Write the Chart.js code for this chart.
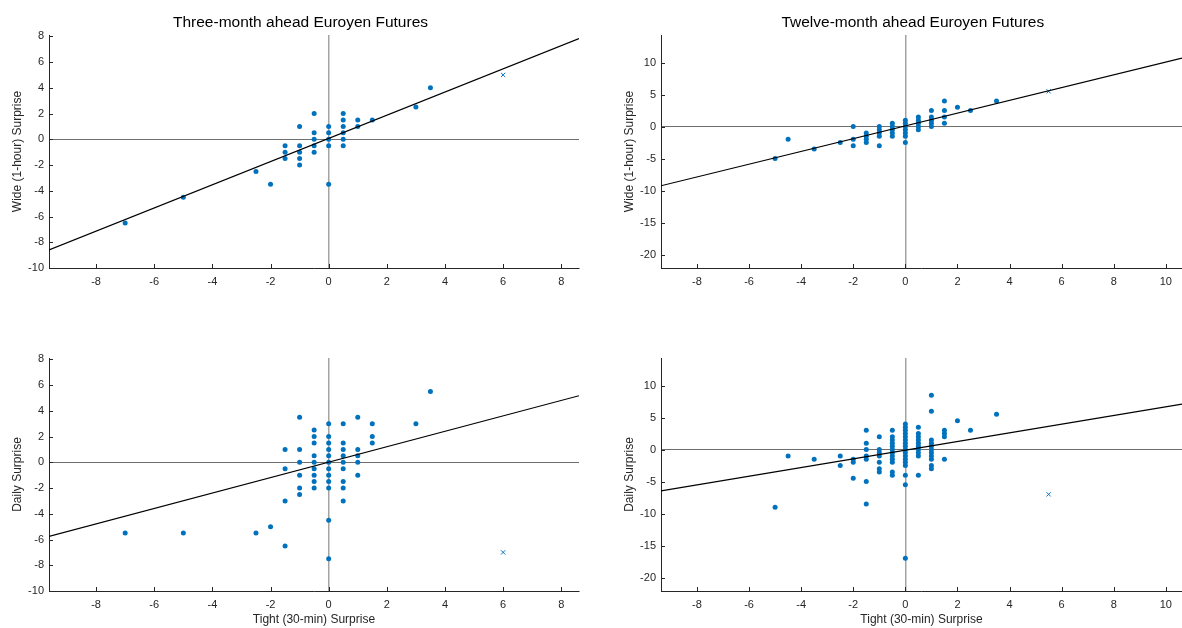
<!DOCTYPE html>
<html>
<head>
<meta charset="utf-8">
<title>Euroyen Futures surprises</title>
<script src="https://cdn.jsdelivr.net/npm/chart.js@4.4.1/dist/chart.umd.min.js"></script>
<style>
  html, body { margin: 0; padding: 0; background: #fff; }
  #wrap { position: relative; width: 1182px; height: 628px; overflow: hidden; background: #fff; }
  canvas { position: absolute; }
</style>
</head>
<body>
<div id="wrap">
  <canvas id="p1" width="591" height="300" style="left:0;top:0;width:591px;height:300px"></canvas>
  <canvas id="p2" width="591" height="300" style="left:591px;top:0;width:591px;height:300px"></canvas>
  <canvas id="p3" width="591" height="328" style="left:0;top:300px;width:591px;height:328px"></canvas>
  <canvas id="p4" width="591" height="328" style="left:591px;top:300px;width:591px;height:328px"></canvas>
</div>
<script>
// ---- data: three-month contract, wide (1-hour) vs tight (30-min)
const tight3mA = [-7, -5, -2.5, -2, -1.5, -1.5, -1.5, -1, -1, -1, -1, -1, -0.5, -0.5, -0.5, -0.5, -0.5,
  0, 0, 0, 0, 0, 0.5, 0.5, 0.5, 0.5, 0.5, 0.5, 1, 1, 1.5, 3, 3.5];
const wide3m = [-6.5, -4.5, -2.5, -3.5, -0.5, -1, -1.5, 1, -0.5, -1, -1.5, -2, 2, 0.5, 0, -0.5, -1,
  1, 0.5, 0, -0.5, -3.5, 2, 1.5, 1, 0.5, 0, -0.5, 1.5, 1, 1.5, 2.5, 4];

// ---- data: three-month contract, daily vs tight (30-min)
const tight3mB = [-7, -5, -2.5, -2, -1.5, -1.5, -1.5, -1.5,
  -1, -1, -1, -1, -1, -1,
  -0.5, -0.5, -0.5, -0.5, -0.5, -0.5, -0.5, -0.5, -0.5,
  0, 0, 0, 0, 0, 0, 0, 0, 0, 0, 0, 0,
  0.5, 0.5, 0.5, 0.5, 0.5, 0.5, 0.5, 0.5, 0.5,
  1, 1, 1, 1, 1,
  1.5, 1.5, 1.5, 3, 3.5];
const daily3m = [-5.5, -5.5, -5.5, -5, 1, -0.5, -3, -6.5,
  3.5, 1, 0, -1, -2, -2.5,
  2.5, 2, 1.5, 0.5, 0, -0.5, -1, -1.5, -2,
  3, 2, 1.5, 1, 0.5, 0, -0.5, -1, -1.5, -2, -4.5, -7.5,
  3, 1.5, 1, 0.5, 0, -0.5, -1.5, -2, -3,
  3.5, 1, 0.5, 0, -1,
  3, 2, 1.5, 3, 5.5];

// ---- data: twelve-month contract, wide (1-hour) vs tight (30-min)
const tight12mA = [-5, -4.5, -3.5, -2.5, -2, -2, -2,
  -1.5, -1.5, -1.5, -1.5,
  -1, -1, -1, -1, -1,
  -0.5, -0.5, -0.5, -0.5, -0.5,
  0, 0, 0, 0, 0, 0, 0,
  0.5, 0.5, 0.5, 0.5, 0.5,
  1, 1, 1, 1, 1,
  1.5, 1.5, 1.5, 1.5, 2, 2.5, 3.5];
const wide12m = [-5, -2, -3.5, -2.5, 0, -2, -3,
  -1, -1.5, -2, -2.5,
  0, -0.5, -1, -1.5, -3,
  0.5, 0, -0.5, -1, -1.5,
  1, 0.5, 0, -0.5, -1, -1.5, -2.5,
  1.5, 1, 0.5, 0, -0.5,
  2.5, 1.5, 1, 0.5, 0,
  4, 2.5, 1.5, 0.5, 3, 2.5, 4];

// ---- data: twelve-month contract, daily vs tight (30-min)
const tight12mB = [-5, -4.5, -3.5, -2.5, -2.5, -2, -2, -2,
  -1.5, -1.5, -1.5, -1.5, -1.5, -1.5, -1.5,
  -1, -1, -1, -1, -1, -1, -1,
  -0.5, -0.5, -0.5, -0.5, -0.5, -0.5, -0.5, -0.5, -0.5, -0.5, -0.5, -0.5,
  0, 0, 0, 0, 0, 0, 0, 0, 0, 0, 0, 0, 0, 0, 0, 0, 0,
  0.5, 0.5, 0.5, 0.5, 0.5, 0.5, 0.5, 0.5, 0.5, 0.5,
  1, 1, 1, 1, 1, 1, 1, 1, 1, 1, 1,
  1.5, 1.5, 1.5, 1.5, 2, 2.5, 3.5];
const daily12m = [-9, -1, -1.5, -1, -2.5, -1.5, -2, -4.5,
  3, 1, 0, -1, -1.5, -5, -8.5,
  2, 0, -0.5, -1, -2, -3, -3.5,
  3, 2, 1.5, 1, 0.5, 0, -0.5, -1, -1.5, -2, -3.5, -4,
  4, 3.5, 3, 2.5, 2, 1.5, 1, 0.5, 0, -0.5, -1, -1.5, -2, -2.5, -4, -5.5, -17,
  3.5, 2.5, 2, 1.5, 1, 0.5, 0, -0.5, -1, -4,
  8.5, 6, 1.5, 1, 0.5, 0, -0.5, -1, -1.5, -2.5, -3,
  3, 2.5, 2, -1.5, 4.5, 3, 5.5];

// ---- excluded observation (x marker), one per panel
const outTight3m = [6];
const outWide3m = [5];
const outDaily3m = [-7];
const outTight12m = [5.5];
const outWide12m = [5.5];
const outDaily12m = [-7];

// ---- fitted lines, end points read at the axis edges
const fitX3m = [-9.62, 8.61];
const fitWide3m = [-8.59, 7.82];
const fitDaily3m = [-5.76, 5.17];
const fitX12m = [-9.38, 10.62];
const fitWide12m = [-9.25, 10.7];
const fitDaily12m = [-6.46, 7.08];

// ---- axis limits and tick labels
const xLim3m = [-9.62, 8.61];
const yLim3m = [-10, 8.1];
const xLim12m = [-9.38, 10.62];
const yLim12m = [-22.1, 14.3];
const xTicks3m = [-8, -6, -4, -2, 0, 2, 4, 6, 8];
const yTicks3m = [-10, -8, -6, -4, -2, 0, 2, 4, 6, 8];
const xTicks12m = [-8, -6, -4, -2, 0, 2, 4, 6, 8, 10];
const yTicks12m = [-20, -15, -10, -5, 0, 5, 10];

const BLUE = "#0072BD";
const INK = "#262626";
const FONT = '"Liberation Sans", Arial, Helvetica, sans-serif';

Chart.defaults.font.family = FONT;
Chart.defaults.color = INK;

function zip(xs, ys) {
  return xs.map((x, i) => ({ x: x, y: ys[i] }));
}

// ticks pointing into the plot, like matlab
const innerTicks = {
  id: "innerTicks",
  afterDraw(chart) {
    const { ctx, chartArea: a, scales } = chart;
    ctx.save();
    ctx.strokeStyle = INK;
    ctx.lineWidth = 1;
    ctx.beginPath();
    scales.x.ticks.forEach((t) => {
      const px = Math.round(scales.x.getPixelForValue(t.value)) + 0.5;
      ctx.moveTo(px, a.bottom);
      ctx.lineTo(px, a.bottom - 4);
    });
    scales.y.ticks.forEach((t) => {
      const py = Math.round(scales.y.getPixelForValue(t.value)) + 0.5;
      ctx.moveTo(a.left, py);
      ctx.lineTo(a.left + 4, py);
    });
    ctx.stroke();
    ctx.restore();
  },
};

// panel title at a fixed spot
const panelTitle = {
  id: "panelTitle",
  afterDraw(chart, args, opts) {
    if (!opts || !opts.text) return;
    const ctx = chart.ctx;
    ctx.save();
    ctx.font = "15.5px " + FONT;
    ctx.fillStyle = "#000";
    ctx.textAlign = "center";
    ctx.textBaseline = "alphabetic";
    ctx.fillText(opts.text, opts.x, opts.y);
    ctx.restore();
  },
};

function makePanel(id, p) {
  const ctx = document.getElementById(id);
  const zeroX = (c) => (c.tick && c.tick.value === 0 ? "#a3a3a3" : "rgba(0,0,0,0)");
  const zeroY = (c) => (c.tick && c.tick.value === 0 ? "#6e6e6e" : "rgba(0,0,0,0)");
  new Chart(ctx, {
    type: "scatter",
    data: {
      datasets: [
        {
          data: zip(p.xs, p.ys),
          backgroundColor: BLUE,
          borderWidth: 0,
          pointRadius: 2.5,
          order: 2,
        },
        {
          data: zip(p.ox, p.oy),
          pointStyle: "crossRot",
          pointRadius: 3,
          borderColor: BLUE,
          backgroundColor: BLUE,
          borderWidth: 1,
          order: 1,
        },
        {
          data: zip(p.fx, p.fy),
          showLine: true,
          borderColor: "#000",
          borderWidth: 1.2,
          pointRadius: 0,
          order: 0,
        },
      ],
    },
    options: {
      responsive: false,
      animation: false,
      devicePixelRatio: 1,
      events: [],
      layout: { padding: p.pad, autoPadding: false },
      plugins: {
        legend: { display: false },
        tooltip: { enabled: false },
        panelTitle: p.title || false,
      },
      scales: {
        x: {
          type: "linear",
          min: p.xlim[0],
          max: p.xlim[1],
          grid: { drawTicks: false, color: zeroX, lineWidth: 1.5 },
          border: { display: true, color: INK, width: 1 },
          ticks: {
            autoSkip: false,
            maxRotation: 0,
            padding: 7,
            color: INK,
            font: { size: 11 },
            callback: (v) => String(v),
          },
          afterBuildTicks: (s) => {
            s.ticks = p.xticks.map((v) => ({ value: v }));
          },
          title: p.xtitle
            ? { display: true, text: p.xtitle, color: INK, font: { size: 12 }, padding: { top: 0, bottom: 1 } }
            : { display: false },
          afterFit: (s) => {
            s.height = p.xh;
            s.paddingLeft = 0;
            s.paddingRight = 0;
          },
        },
        y: {
          type: "linear",
          min: p.ylim[0],
          max: p.ylim[1],
          grid: { drawTicks: false, color: zeroY, lineWidth: 1 },
          border: { display: true, color: INK, width: 1 },
          ticks: {
            autoSkip: false,
            padding: 5,
            color: INK,
            font: { size: 11 },
            callback: (v) => String(v),
          },
          afterBuildTicks: (s) => {
            s.ticks = p.yticks.map((v) => ({ value: v }));
          },
          title: { display: true, text: p.ytitle, color: INK, font: { size: 12 }, padding: { top: p.ytpad, bottom: 0 } },
          afterFit: (s) => {
            s.width = p.yw;
            s.paddingTop = 0;
            s.paddingBottom = 0;
          },
        },
      },
    },
    plugins: [innerTicks, panelTitle],
  });
}

document.addEventListener("DOMContentLoaded", function () {
  makePanel("p1", {
    xs: tight3mA, ys: wide3m, ox: outTight3m, oy: outWide3m, fx: fitX3m, fy: fitWide3m,
    xlim: xLim3m, ylim: yLim3m, xticks: xTicks3m, yticks: yTicks3m,
    pad: { left: 0, top: 35, right: 12, bottom: 0 }, xh: 32, yw: 49, ytpad: 10,
    ytitle: "Wide (1-hour) Surprise",
    title: { text: "Three-month ahead Euroyen Futures", x: 300.5, y: 26.5 },
  });
  makePanel("p2", {
    xs: tight12mA, ys: wide12m, ox: outTight12m, oy: outWide12m, fx: fitX12m, fy: fitWide12m,
    xlim: xLim12m, ylim: yLim12m, xticks: xTicks12m, yticks: yTicks12m,
    pad: { left: 0, top: 35, right: 0, bottom: 0 }, xh: 32, yw: 70, ytpad: 31,
    ytitle: "Wide (1-hour) Surprise",
    title: { text: "Twelve-month ahead Euroyen Futures", x: 321.8, y: 26.5 },
  });
  makePanel("p3", {
    xs: tight3mB, ys: daily3m, ox: outTight3m, oy: outDaily3m, fx: fitX3m, fy: fitDaily3m,
    xlim: xLim3m, ylim: yLim3m, xticks: xTicks3m, yticks: yTicks3m,
    pad: { left: 0, top: 58, right: 12, bottom: 0 }, xh: 37, yw: 49, ytpad: 10,
    ytitle: "Daily Surprise", xtitle: "Tight (30-min) Surprise",
  });
  makePanel("p4", {
    xs: tight12mB, ys: daily12m, ox: outTight12m, oy: outDaily12m, fx: fitX12m, fy: fitDaily12m,
    xlim: xLim12m, ylim: yLim12m, xticks: xTicks12m, yticks: yTicks12m,
    pad: { left: 0, top: 58, right: 0, bottom: 0 }, xh: 37, yw: 70, ytpad: 31,
    ytitle: "Daily Surprise", xtitle: "Tight (30-min) Surprise",
  });
});
</script>
</body>
</html>
